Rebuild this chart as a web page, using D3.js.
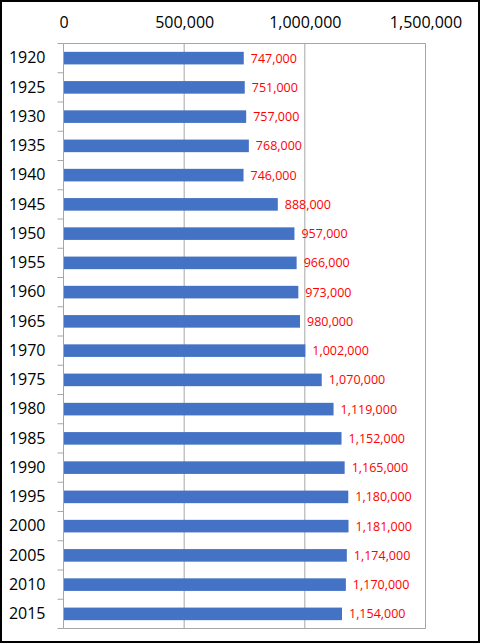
<!DOCTYPE html>
<html>
<head>
<meta charset="utf-8">
<script src="https://cdn.jsdelivr.net/npm/d3@7"></script>
<style>
  body { margin: 0; background: #fff; }
  svg { display: block; }
  .axis text { font-family: "Open Sans", "Noto Sans", sans-serif; fill: #000; }
  .value { font-family: "Open Sans", "Noto Sans", sans-serif; fill: #ff0000; font-size: 12.5px; }
</style>
</head>
<body>
<svg id="chart" width="480" height="643"></svg>
<script>
var years = ['1920', '1925', '1930', '1935', '1940', '1945', '1950', '1955', '1960', '1965',
             '1970', '1975', '1980', '1985', '1990', '1995', '2000', '2005', '2010', '2015'];
var population = [747000, 751000, 757000, 768000, 746000, 888000, 957000, 966000, 973000, 980000,
                  1002000, 1070000, 1119000, 1152000, 1165000, 1180000, 1181000, 1174000, 1170000, 1154000];
var xTicks = [0, 500000, 1000000, 1500000];

var width = 480, height = 643;
var margin = {top: 43.5, right: 54.5, bottom: 14.5, left: 63.5};

var svg = d3.select('#chart');

// outer frame
svg.append('rect')
    .attr('x', 1).attr('y', 1)
    .attr('width', width - 2).attr('height', height - 2)
    .attr('fill', '#fff')
    .attr('stroke', '#000')
    .attr('stroke-width', 2);

var x = d3.scaleLinear()
    .domain([0, 1500000])
    .range([margin.left, width - margin.right]);

var y = d3.scaleBand()
    .domain(years)
    .range([margin.top, height - margin.bottom])
    .paddingInner(0.57)
    .paddingOuter(0.285);

var yTicks = d3.scaleBand()
    .domain(years)
    .range([margin.top, height - margin.bottom]);

var fmt = d3.format(',');

// gridlines
svg.append('g')
    .selectAll('line')
    .data(xTicks.slice(1))
    .join('line')
    .attr('x1', function(d) { return x(d); })
    .attr('x2', function(d) { return x(d); })
    .attr('y1', margin.top)
    .attr('y2', height - margin.bottom)
    .attr('stroke', '#a6a6a6')
    .attr('stroke-width', 1);

// plot border top / bottom
svg.append('g')
    .selectAll('line')
    .data([margin.top, height - margin.bottom])
    .join('line')
    .attr('x1', margin.left)
    .attr('x2', width - margin.right)
    .attr('y1', function(d) { return d; })
    .attr('y2', function(d) { return d; })
    .attr('stroke', '#a6a6a6');

// bars
svg.append('g')
    .selectAll('rect')
    .data(population)
    .join('rect')
    .attr('x', x(0))
    .attr('y', function(d, i) { return y(years[i]); })
    .attr('width', function(d) { return x(d) - x(0); })
    .attr('height', y.bandwidth())
    .attr('fill', '#4472c4');

// value labels
svg.append('g')
    .selectAll('text')
    .data(population)
    .join('text')
    .classed('value', true)
    .attr('x', function(d) { return x(d) + 7; })
    .attr('y', function(d, i) { return y(years[i]) + y.bandwidth() / 2; })
    .attr('dy', '0.36em')
    .text(function(d) { return fmt(d); });

// top axis
var xAxis = svg.append('g')
    .classed('axis', true)
    .attr('transform', 'translate(0,' + margin.top + ')')
    .call(d3.axisTop(x).tickValues(xTicks).tickFormat(fmt).tickSize(0).tickPadding(16));
xAxis.select('.domain').remove();
xAxis.selectAll('text').style('font-size', '16px');

// left axis
var yAxis = svg.append('g')
    .classed('axis', true)
    .attr('transform', 'translate(' + margin.left + ',0)')
    .call(d3.axisLeft(yTicks).tickSize(0).tickPadding(18));
yAxis.select('.domain').remove();
yAxis.selectAll('text').style('font-size', '16px');

// category separators (ticks between bands)
svg.append('g')
    .selectAll('line')
    .data(years.concat(['end']))
    .join('line')
    .attr('x1', margin.left - 6)
    .attr('x2', margin.left)
    .attr('y1', function(d, i) { return margin.top + i * yTicks.step(); })
    .attr('y2', function(d, i) { return margin.top + i * yTicks.step(); })
    .attr('stroke', '#a6a6a6');

// left / right border
svg.append('g')
    .selectAll('line')
    .data([margin.left, width - margin.right])
    .join('line')
    .attr('x1', function(d) { return d; })
    .attr('x2', function(d) { return d; })
    .attr('y1', margin.top)
    .attr('y2', height - margin.bottom)
    .attr('stroke', '#a6a6a6');
</script>
</body>
</html>
